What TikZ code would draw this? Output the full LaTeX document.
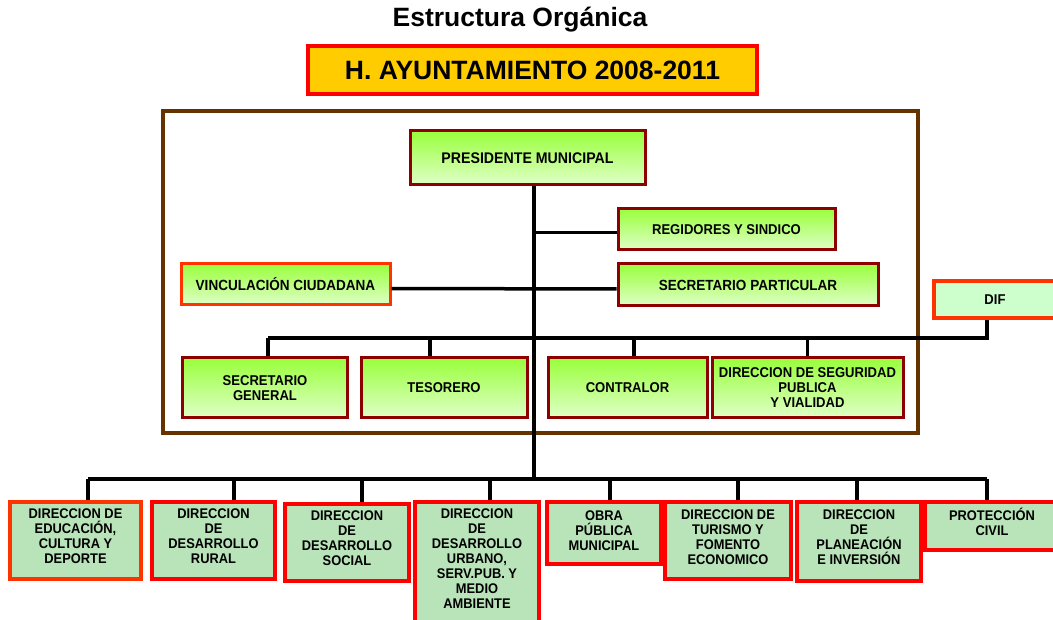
\documentclass[tikz,border=0pt]{standalone}
\usepackage{fontspec}
\setmainfont{Liberation Sans}
\newfontfamily\bxf[FakeStretch=0.92]{Liberation Sans}
\definecolor{dred}{RGB}{140,0,0}
\definecolor{ored}{RGB}{255,51,0}
\definecolor{pured}{RGB}{255,0,0}
\definecolor{brn}{RGB}{102,51,0}
\definecolor{gold}{RGB}{255,204,0}
\definecolor{lime}{RGB}{153,255,60}
\definecolor{pale}{RGB}{224,255,200}
\definecolor{sage}{RGB}{185,228,185}
\definecolor{mint}{RGB}{204,255,204}
\tikzset{
  gbox/.style={draw=dred, line width=3pt, top color=lime, bottom color=pale,
    font=\bxf\bfseries\fontsize{14.2}{15}\selectfont, align=center, inner sep=0pt},
  obox/.style={gbox, draw=ored},
  difbox/.style={draw=ored, line width=3.5pt, fill=mint,
    font=\bxf\bfseries\fontsize{14.2}{15}\selectfont, inner sep=0pt},
  bbox/.style={draw=pured, line width=4pt, fill=sage, inner sep=0pt},
  ebox/.style={bbox, draw=ored},
  btxt/.style={font=\bxf\bfseries\fontsize{14}{15}\selectfont, align=center,
    anchor=north, inner sep=0pt},
  hbox/.style={draw=pured, line width=4pt, fill=gold,
    font=\bfseries\fontsize{26.5}{30}\selectfont, inner sep=0pt},
  frame/.style={draw=brn, line width=4pt, inner sep=0pt},
  conn/.style={draw=black, line width=3.5pt},
}
\begin{document}
\begin{tikzpicture}[x=1pt,y=-1pt]
\clip (0,0) rectangle (1053,620);
\fill[white] (0,0) rectangle (1053,620);

\node[font=\bfseries\fontsize{26.5}{30}\selectfont] (title) at (520,20) {Estructura Orgánica};
\node[hbox, minimum width=449pt, minimum height=48pt] (ayto) at (532.5,70) {H. AYUNTAMIENTO 2008-2011};

\node[frame, minimum width=755pt, minimum height=322pt] (marco) at (540.5,272) {};

% coordinates of the buses
\coordinate (spineB) at (534,479);
\coordinate (bbL) at (88,479);
\coordinate (bbR) at (987,479);
\coordinate (mbL) at (268,338);
\coordinate (mbR) at (987,338);

% upper boxes
\node[gbox, minimum width=235pt, minimum height=54pt, font=\bxf\bfseries\fontsize{15.4}{16}\selectfont] (pres) at (527.5,158) {PRESIDENTE MUNICIPAL};
\node[gbox, minimum width=217pt, minimum height=41pt] (reg) at (726.5,229.5) {REGIDORES Y SINDICO};
\node[gbox, minimum width=260pt, minimum height=42pt, font=\bxf\bfseries\fontsize{14.7}{15}\selectfont] (secpart) at (748,285) {SECRETARIO PARTICULAR};
\node[obox, minimum width=209pt, minimum height=41pt, font=\bxf\bfseries\fontsize{14.7}{15}\selectfont] (vinc) at (285.5,284.5) {VINCULACIÓN CIUDADANA};
\node[difbox, minimum width=122pt, minimum height=37pt] (dif) at (995,299.5) {DIF};

% middle row
\node[gbox, minimum width=165pt, minimum height=60pt] (secgen) at (265,388) {SECRETARIO\\GENERAL};
\node[gbox, minimum width=166pt, minimum height=60pt] (tes) at (444,388) {TESORERO};
\node[gbox, minimum width=159pt, minimum height=60pt] (contr) at (627.5,388) {CONTRALOR};
\node[gbox, minimum width=191pt, minimum height=60pt] (segur) at (807.5,388) {DIRECCION DE SEGURIDAD\\PUBLICA\\Y VIALIDAD};

% bottom row
\node[ebox, minimum width=131pt, minimum height=77pt] (edu) at (75.5,540.5) {};
\node[bbox, minimum width=123pt, minimum height=77pt] (rural) at (213.5,540.5) {};
\node[bbox, minimum width=124pt, minimum height=77pt] (social) at (347,542.5) {};
\node[bbox, minimum width=124pt, minimum height=120pt] (urbano) at (477,562) {};
\node[bbox, minimum width=114pt, minimum height=62pt] (obra) at (604,533) {};
\node[bbox, minimum width=126pt, minimum height=77pt] (turismo) at (728,540.5) {};
\node[bbox, minimum width=124pt, minimum height=79pt] (plan) at (859,541.5) {};
\node[bbox, minimum width=135pt, minimum height=48pt] (civil) at (992,526) {};

\node[btxt] (edu-t) at ([yshift=-9pt]edu.north) {DIRECCION DE\\EDUCACIÓN,\\CULTURA Y\\DEPORTE};
\node[btxt] (rural-t) at ([yshift=-9pt]rural.north) {DIRECCION\\DE\\DESARROLLO\\RURAL};
\node[btxt] (social-t) at ([yshift=-9pt]social.north) {DIRECCION\\DE\\DESARROLLO\\SOCIAL};
\node[btxt] (urbano-t) at ([yshift=-9pt]urbano.north) {DIRECCION\\DE\\DESARROLLO\\URBANO,\\SERV.PUB. Y\\MEDIO\\AMBIENTE};
\node[btxt] (obra-t) at ([yshift=-10.5pt]obra.north) {OBRA\\PÚBLICA\\MUNICIPAL};
\node[btxt] (turismo-t) at ([yshift=-9.5pt]turismo.north) {DIRECCION DE\\TURISMO Y\\FOMENTO\\ECONOMICO};
\node[btxt] (plan-t) at ([yshift=-9.5pt]plan.north) {DIRECCION\\DE\\PLANEACIÓN\\E INVERSIÓN};
\node[btxt] (civil-t) at ([yshift=-8pt]civil.north) {PROTECCIÓN\\CIVIL};

% connectors
\draw[conn] (pres.south -| spineB) -- (spineB);
\draw[conn] ([yshift=-3pt]reg.west) -- ([yshift=-3pt]reg.west -| spineB);
\draw[conn] ([yshift=-4pt]vinc.east) -- ([yshift=-4pt]secpart.west);
\draw[conn] (mbL) -- (mbR) -- (dif.south -| mbR);
\draw[conn] (mbL) -- (secgen.north -| mbL);
\draw[conn] ([xshift=-14pt]tes.north) -- ([xshift=-14pt]tes.north |- mbL);
\draw[conn] ([xshift=6.5pt]contr.north) -- ([xshift=6.5pt]contr.north |- mbL);
\draw[conn] (segur.north) -- (segur.north |- mbL);
\draw[conn] (bbL) -- (bbR);
\foreach \n/\d in {edu/12.5,rural/20.5,social/15,urbano/13,obra/6,turismo/10,plan/-2,civil/-5}
  \draw[conn] ([xshift=\d pt]\n.north) -- ([xshift=\d pt]\n.north |- bbL);
\end{tikzpicture}
\end{document}
